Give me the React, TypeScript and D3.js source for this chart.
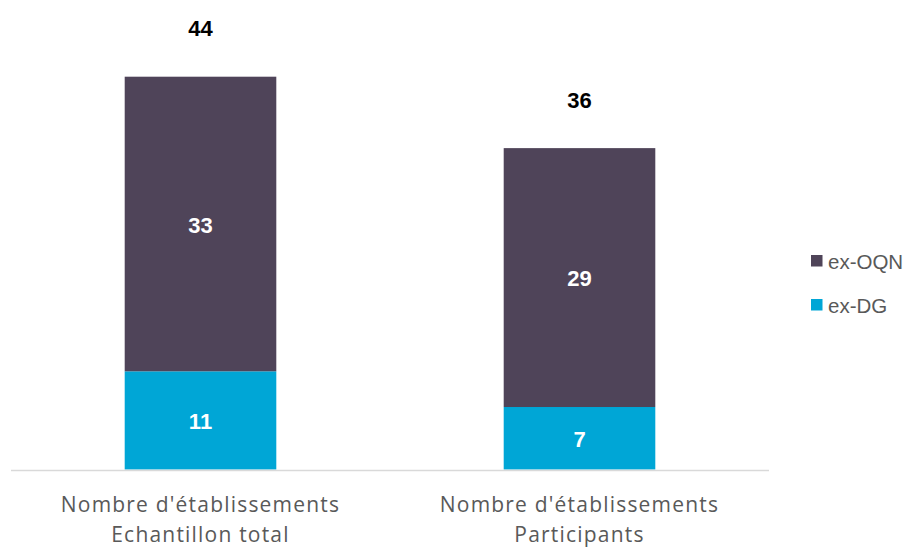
import React from "react";
import * as d3 from "d3";

const categories = ["Nombre d'établissements|Echantillon total", "Nombre d'établissements|Participants"];
const exDG = [11, 7];
const exOQN = [33, 29];
const seriesNames = ["ex-OQN", "ex-DG"];
const colors = { "ex-OQN": "#4F4459", "ex-DG": "#00A6D6" };

export default function App() {
  const W = 916, H = 550;
  const x0 = 11, x1 = 769, baseline = 469.5, top = 76.7;
  const totals = categories.map((_, i) => exDG[i] + exOQN[i]);
  const x = d3.scaleBand<number>().domain(categories.map((_, i) => i)).range([x0, x1]).paddingInner(0.6).paddingOuter(0.3);
  const y = d3.scaleLinear().domain([0, 44]).range([baseline, top]);
  const stack = d3.stack<any>().keys(["ex-DG", "ex-OQN"])(categories.map((_, i) => ({ "ex-DG": exDG[i], "ex-OQN": exOQN[i] })));
  return (
    <svg width={W} height={H} style={{ position: "absolute", left: 0, top: 0 }}>
      <rect width={W} height={H} fill="#fff" />
      {stack.map((s) =>
        s.map((d, i) => (
          <g key={s.key + i}>
            <rect x={x(i)} y={y(d[1])} width={x.bandwidth()} height={y(d[0]) - y(d[1])} fill={(colors as any)[s.key]} />
            <text x={x(i)! + x.bandwidth() / 2} y={(y(d[0]) + y(d[1])) / 2 + 1} dy="0.35em" textAnchor="middle"
              fill="#fff" fontFamily="Arial, 'Liberation Sans', sans-serif" fontWeight="bold" fontSize={22}>
              {d[1] - d[0]}
            </text>
          </g>
        ))
      )}
      {totals.map((t, i) => (
        <text key={"t" + i} x={x(i)! + x.bandwidth() / 2} y={y(t) - 48} dy="0.35em" textAnchor="middle"
          fill="#000" fontFamily="Arial, 'Liberation Sans', sans-serif" fontWeight="bold" fontSize={22}>{t}</text>
      ))}
      <line x1={x0} x2={x1} y1={baseline + 1} y2={baseline + 1} stroke="#D9D9D9" strokeWidth={1.5} />
      {categories.map((c, i) => (
        <text key={"c" + i} textAnchor="middle" fill="#595959" fontFamily="'Open Sans', sans-serif" fontSize={21} letterSpacing={1.2}>
          {c.split("|").map((line, j) => (
            <tspan key={j} x={x(i)! + x.bandwidth() / 2} y={505 + j * 30} dy="0.35em">{line}</tspan>
          ))}
        </text>
      ))}
      {seriesNames.map((n, i) => (
        <g key={n} transform={`translate(811, ${255 + i * 44})`}>
          <rect width={11.5} height={11.5} fill={(colors as any)[n]} />
          <text x={17} y={6.5} dy="0.35em" fill="#595959" fontFamily="Arial, 'Liberation Sans', sans-serif" fontSize={20.5}>{n}</text>
        </g>
      ))}
    </svg>
  );
}
